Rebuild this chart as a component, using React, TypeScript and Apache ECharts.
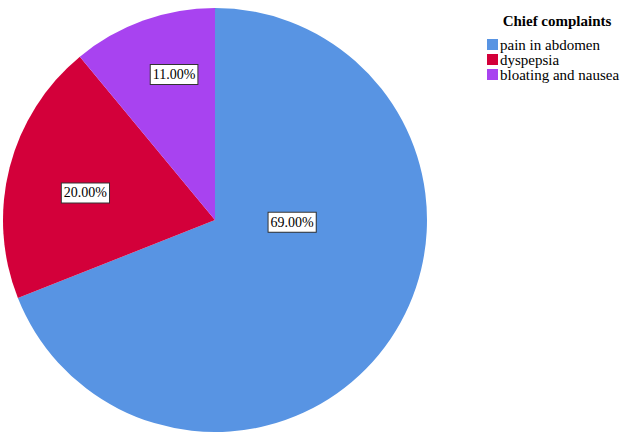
import React, { useEffect, useRef } from "react";
import * as echarts from "echarts";

const categories = ["pain in abdomen", "dyspepsia", "bloating and nausea"];
const values = [69, 20, 11];
const colors = ["#5894E3", "#D3003A", "#A843F0"];
const labelOffsets: [number, number][] = [
  [-13, -59],
  [-24, 0],
  [-4, -43],
];

export default function App() {
  const ref = useRef<HTMLDivElement>(null);
  useEffect(() => {
    document.body.style.margin = "0";
    const chart = echarts.init(ref.current!, null, { renderer: "svg" });
    chart.setOption({
      animation: false,
      backgroundColor: "#ffffff",
      title: {
        text: "Chief complaints",
        left: 552,
        top: 8,
        textAlign: "center",
        textStyle: {
          fontFamily: "Liberation Serif",
          fontWeight: "bold",
          fontSize: 15,
          color: "#000",
        },
      },
      legend: {
        orient: "vertical",
        left: 482,
        top: 32,
        itemWidth: 11,
        itemHeight: 11,
        itemGap: 0,
        icon: "rect",
        data: categories,
        textStyle: {
          fontFamily: "Liberation Serif",
          fontSize: 15,
          color: "#000",
          padding: [0, 0, 0, -3],
          lineHeight: 13,
        },
      },
      series: [
        {
          type: "pie",
          center: [215, 220],
          radius: 212,
          startAngle: 90,
          clockwise: true,
          labelLine: { show: false },
          itemStyle: { borderWidth: 0 },
          label: {
            show: true,
            position: "inside",
            formatter: (p: any) => p.value.toFixed(2) + "%",
            fontFamily: "Liberation Serif",
            fontSize: 14,
            color: "#000",
            backgroundColor: "#fff",
            borderColor: "#333",
            borderWidth: 1,
            padding: [3, 2, 2, 2],
          },
          emphasis: { disabled: true },
          data: categories.map((c, i) => ({
            name: c,
            value: values[i],
            itemStyle: { color: colors[i] },
            label: { offset: labelOffsets[i] },
          })),
        },
      ],
    });
    return () => chart.dispose();
  }, []);
  return <div ref={ref} style={{ width: 624, height: 435 }} />;
}
